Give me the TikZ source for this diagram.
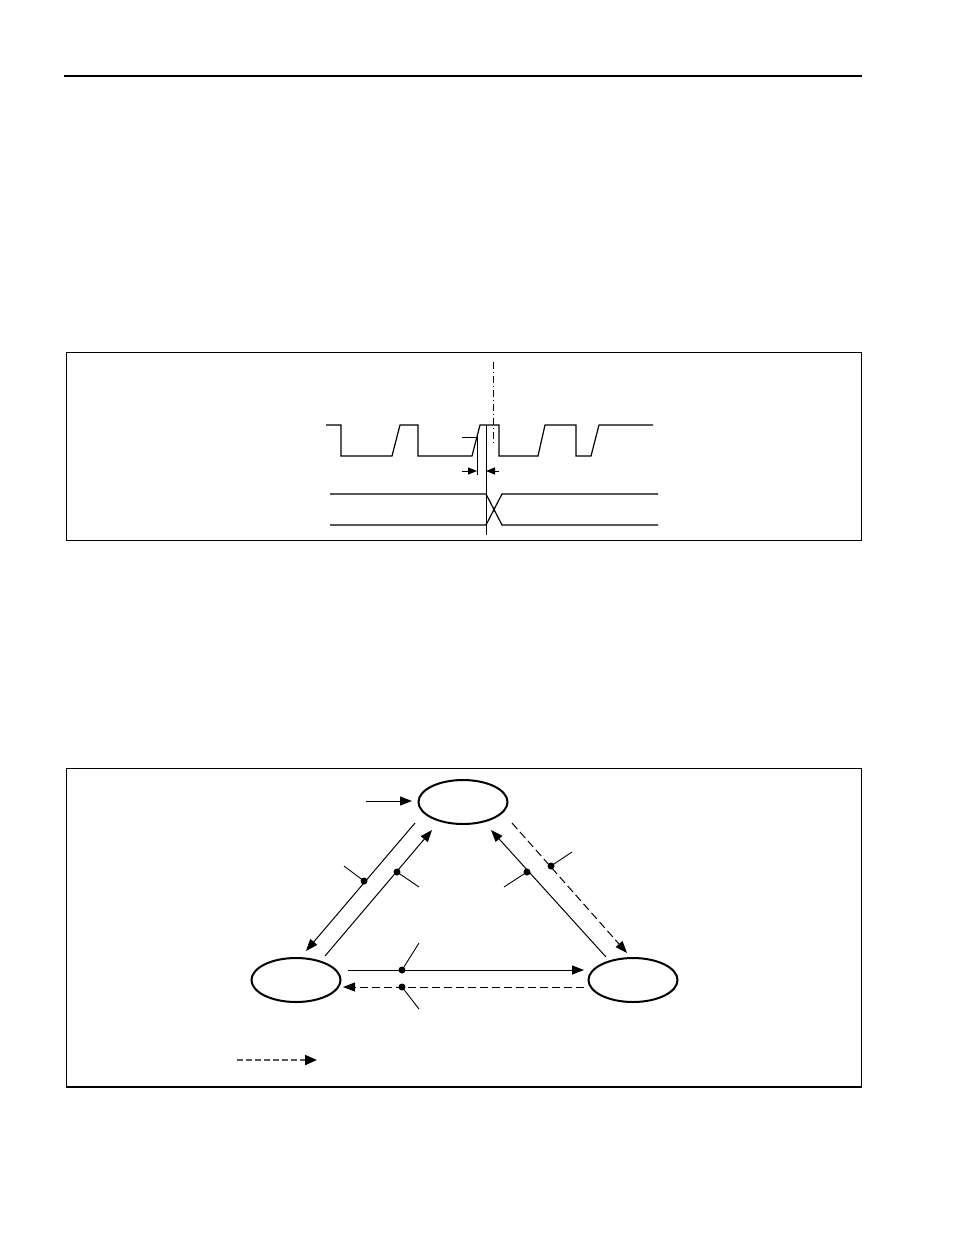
\documentclass[tikz,border=0pt]{standalone}
\usetikzlibrary{arrows.meta,shapes.geometric}
\begin{document}
\begin{tikzpicture}[x=1pt,y=-1pt,
  frame/.style={line width=1pt},
  sig/.style={line width=1.2pt,line join=miter},
  thin/.style={line width=1pt},
  arr/.style={line width=1pt,-{Triangle[length=12pt,width=9pt]}},
  darr/.style={arr,dash pattern=on 8pt off 4pt},
  stnode/.style={ellipse,draw,line width=2pt,minimum width=89pt,minimum height=44pt,inner sep=0pt},
  dotc/.style={circle,fill,inner sep=0pt,minimum size=7pt},
  tick/.style={line width=0.9pt}]
\useasboundingbox (0,0) rectangle (954,1235);
% header rule
\draw[line width=1.3pt] (64,76) -- (862,76);
% box 1
\draw[frame] (66,352) rectangle (861,540);
% clock
\draw[sig] (326,425) -- (341,425) -- (341,456) -- (392,456) -- (400,425) -- (418,425) -- (418,456)
  -- (472,456) -- (480,425) -- (499,425) -- (499,456) -- (538,456) -- (545,425) -- (576,425)
  -- (576,456) -- (591,456) -- (599,425) -- (653,425);
% dash-dot reference line
\draw[line width=0.8pt,dash pattern=on 7pt off 3pt on 1pt off 3pt] (493,362) -- (493,445);
% setup marker
\coordinate (ma) at (462,437);
\coordinate (mb) at (477,437);
\draw[thin] (ma) -- (mb);
\coordinate (va) at (477,435);
\coordinate (vb) at (477,475);
\draw[thin] (va) -- (vb);
\coordinate (ref1) at (486,425);
\coordinate (ref2) at (486,535);
\draw[thin] (ref1) -- (ref2);
\coordinate (a1s) at (462,471);
\coordinate (a1e) at (477,471);
\coordinate (a2s) at (499,471);
\coordinate (a2e) at (486,471);
\draw[line width=1pt,-{Triangle[length=9pt,width=7pt]}] (a1s) -- (a1e);
\draw[line width=1pt,-{Triangle[length=9pt,width=7pt]}] (a2s) -- (a2e);
% data lines
\draw[sig] (330,494) -- (486,494) -- (502,525) -- (658,525);
\draw[sig] (330,525) -- (486,525) -- (502,494) -- (658,494);
% box 2
\draw[frame] (66,768) -- (861,768) -- (861,1087);
\draw[frame] (66,768) -- (66,1087);
\draw[line width=2pt] (65.5,1087) -- (861.5,1087);
% states
\node[stnode] (top) at (463,802) {};
\node[stnode] (left) at (296,980) {};
\node[stnode] (right) at (633,980) {};
% initial arrow
\coordinate (init) at (366,801);
\coordinate (inite) at (412,801);
\draw[arr] (init) -- (inite);
% left side
\coordinate (tl1) at (415,823);
\coordinate (tl2) at (306,951);
\draw[arr] (tl1) -- (tl2);
\coordinate (d1) at (364,881);
\coordinate (t1) at (344,866);
\coordinate (lt1) at (325,956);
\coordinate (lt2) at (432,830);
\draw[arr] (lt1) -- (lt2);
\coordinate (d2) at (397,872);
\coordinate (t2) at (419,887);
% right side
\coordinate (rt1) at (606,957);
\coordinate (rt2) at (491,830);
\draw[arr] (rt1) -- (rt2);
\coordinate (d3) at (527,872);
\coordinate (t3) at (504,887);
\coordinate (tr1) at (512,823);
\coordinate (tr2) at (627,953);
\draw[darr] (tr1) -- (tr2);
\coordinate (d4) at (551,866);
\coordinate (t4) at (572,852);
% bottom
\coordinate (lr1) at (348,970);
\coordinate (lr2) at (584,970);
\draw[arr] (lr1) -- (lr2);
\coordinate (d5) at (402,970);
\coordinate (t5) at (419,943);
\coordinate (rl1) at (584,987);
\coordinate (rl2) at (343,987);
\draw[darr] (rl1) -- (rl2);
\coordinate (d6) at (402,987);
\coordinate (t6) at (419,1009);
% dots and ticks
\foreach \d/\t in {d1/t1,d2/t2,d3/t3,d4/t4,d5/t5,d6/t6}{
  \node[dotc] (n\d) at (\d) {};
  \draw[tick] (\d) -- (\t);
}
% legend
\coordinate (lg1) at (237,1060);
\coordinate (lg2) at (317,1060);
\draw[line width=2pt,draw=black!65,dash pattern=on 6pt off 3pt,
  -{Triangle[length=12pt,width=10pt,color=black]}] (lg1) -- (lg2);
\end{tikzpicture}
\end{document}
